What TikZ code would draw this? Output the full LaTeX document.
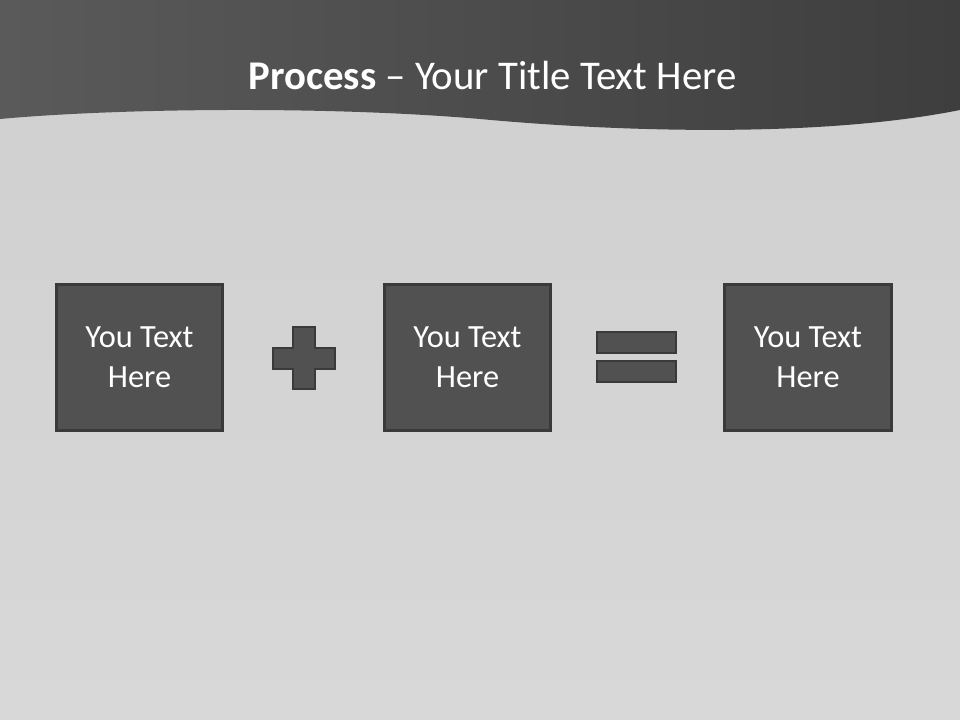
\documentclass[tikz,border=0pt]{standalone}
\usepackage{fontspec}
\setmainfont{Carlito}
\usepackage{tikz}
\usetikzlibrary{positioning}
\definecolor{pgpaper}{HTML}{CFCFCF}
\definecolor{pgpaperlo}{HTML}{D8D8D8}
\definecolor{pgbandl}{HTML}{5A5A5A}
\definecolor{pgbandr}{HTML}{3E3E3E}
\definecolor{pgfill}{HTML}{515151}
\definecolor{pgedge}{HTML}{3A3A3A}

\begin{document}
\begin{tikzpicture}[x=0.025cm,y=-0.025cm,
    termbox/.style={draw=pgedge,fill=pgfill,line width=2.2pt,minimum width=4.16cm,minimum height=3.66cm,
      align=center,text=white,font=\fontsize{23}{28.5}\selectfont},
    opshape/.style={draw=pgedge,fill=pgfill,line width=1.8pt}]
  % background and title band
  \fill[top color=pgpaper,bottom color=pgpaperlo] (0,0) rectangle (960,720);
  \shade[left color=pgbandl,right color=pgbandr] (0,0) -- (0,119) .. controls (120,108) and (330,106) .. (480,119)
    .. controls (620,132) and (820,138) .. (960,110) -- (960,0) -- cycle;
  \node[text=white,font=\fontsize{29}{35}\selectfont] (title) at (492.5,75) {\textbf{Process} -- Your Title Text Here};
  % the three terms
  \node[termbox] (first) at (139.5,357.5) {You Text\\Here};
  \node[termbox] (second) at (467.5,357.5) {You Text\\Here};
  \node[termbox] (result) at (808,357.5) {You Text\\Here};
  % plus and equals signs
  \draw[opshape] (293,327) -- (315,327) -- (315,348) -- (335,348) -- (335,369) -- (315,369) -- (315,389)
    -- (293,389) -- (293,369) -- (273,369) -- (273,348) -- (293,348) -- cycle;
  \draw[opshape] (597,332) rectangle (676,353);
  \draw[opshape] (597,361) rectangle (676,382);
\end{tikzpicture}
\end{document}
